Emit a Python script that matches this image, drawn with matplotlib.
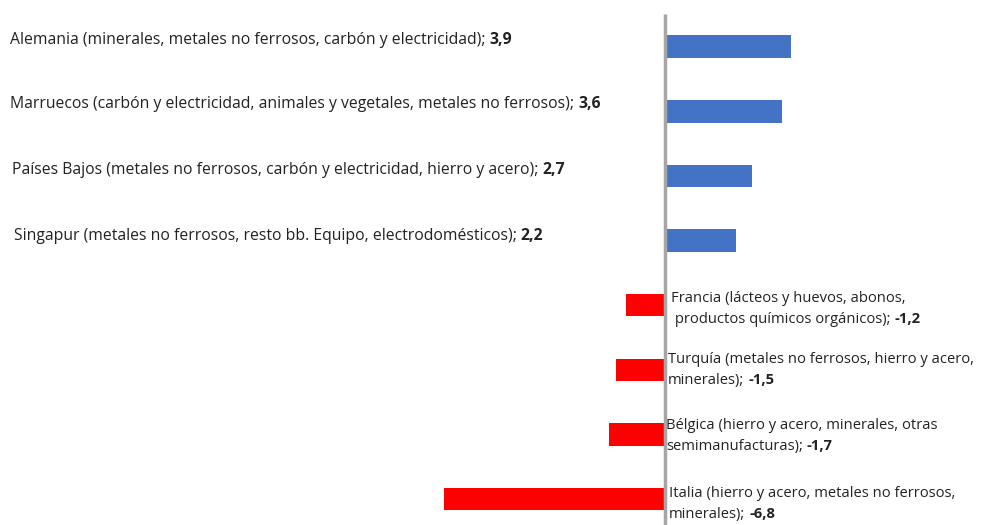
import numpy as np
import matplotlib.pyplot as plt

plt.rcParams['font.family'] = ['Open Sans', 'DejaVu Sans']

# Datos
paises = ["Alemania", "Marruecos", "Países Bajos", "Singapur",
          "Francia", "Turquía", "Bélgica", "Italia"]
valores = [3.9, 3.6, 2.7, 2.2, -1.2, -1.5, -1.7, -6.8]
etiquetas = [
    ["Alemania (minerales, metales no ferrosos, carbón y electricidad);"],
    ["Marruecos (carbón y electricidad, animales y vegetales, metales no ferrosos);"],
    ["Países Bajos (metales no ferrosos, carbón y electricidad, hierro y acero);"],
    ["Singapur (metales no ferrosos, resto bb. Equipo, electrodomésticos);"],
    ["Francia (lácteos y huevos, abonos,", " productos químicos orgánicos);"],
    ["Turquía (metales no ferrosos, hierro y acero,", "minerales);"],
    ["Bélgica (hierro y acero, minerales, otras", "semimanufacturas);"],
    ["Italia (hierro y acero, metales no ferrosos,", "minerales);"],
]
valores_txt = ["3,9", "3,6", "2,7", "2,2", "-1,2", "-1,5", "-1,7", "-6,8"]

# posición de las etiquetas en píxeles (x izquierda, y centro de la primera línea)
pos_etq = [(10, 40), (10, 104), (12, 170), (14, 236),
           (671, 298), (668, 359), (666, 425), (669, 493)]

W, H = 989, 525
fig = plt.figure(figsize=(W / 100, H / 100), dpi=100)
ax = fig.add_axes([0, 0, 1, 1])

colores = ['#4472C4' if v > 0 else '#FF0000' for v in valores]
y = np.arange(len(valores))
ax.barh(y, valores, height=0.35, color=colores)

ax.set_xlim(-20.45, 9.98)
ax.set_ylim(7.40, -0.72)
ax.vlines(0, -0.50, 7.40, color='#A6A6A6', lw=2.5)
ax.axis('off')

renderer = fig.canvas.get_renderer()
for i, (lineas, vtxt, (px, py)) in enumerate(zip(etiquetas, valores_txt, pos_etq)):
    fs = 11.3 if valores[i] > 0 else 10.6
    for k, linea in enumerate(lineas):
        yb = 1 - (py + 4 + k * 21) / H
        t = fig.text(px / W, yb, linea, fontsize=fs, color='#222222',
                     ha='left', va='baseline')
    x_fin = t.get_window_extent(renderer).x1 / W
    fig.text(x_fin + 4 / W, yb, vtxt, fontsize=fs, fontweight='bold',
             color='#222222', ha='left', va='baseline')

plt.savefig('out.png', dpi=100)
